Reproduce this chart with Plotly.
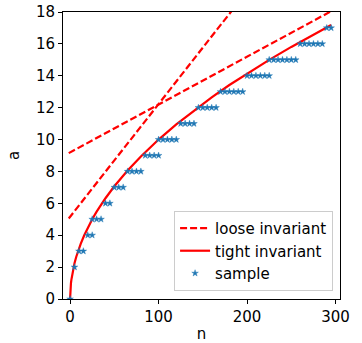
import plotly.graph_objects as go

# sample points (n, a)
sample_n = [0, 5, 10, 15, 20, 25, 25, 30, 35, 40, 45, 50, 55, 60, 65, 70, 75, 80,
            85, 90, 95, 100, 100, 105, 110, 115, 120, 125, 130, 135, 140,
            145, 150, 155, 160, 165, 170, 175, 180, 185, 190, 195,
            200, 205, 210, 215, 220, 225, 225, 230, 235, 240, 245, 250, 255,
            260, 265, 270, 275, 280, 285, 290, 295]
sample_a = [0, 2, 3, 3, 4, 4, 5, 5, 5, 6, 6, 7, 7, 7, 8, 8, 8, 8,
            9, 9, 9, 9, 10, 10, 10, 10, 10, 11, 11, 11, 11,
            12, 12, 12, 12, 12, 13, 13, 13, 13, 13, 13,
            14, 14, 14, 14, 14, 14, 15, 15, 15, 15, 15, 15, 15,
            16, 16, 16, 16, 16, 16, 17, 17]

# tight invariant curve
tight_n = [0, 0.1, 0.3, 0.6, 1, 1.5, 2, 3, 4, 5, 7, 9, 12, 16, 20, 25, 30, 40, 50,
           65, 80, 100, 120, 140, 160, 180, 200, 225, 250, 275, 295]
tight_a = [0, 0.32, 0.55, 0.77, 1.0, 1.22, 1.41, 1.73, 2.0, 2.24, 2.65, 3.0, 3.46,
           4.0, 4.47, 5.0, 5.48, 6.32, 7.07, 8.06, 8.94, 10.0, 10.95, 11.83,
           12.65, 13.42, 14.14, 15.0, 15.81, 16.58, 17.18]

# loose invariant lines (two straight segments, clipped by the axis)
loose1_n = [-1.5, 200]
loose1_a = [5.05, 19.3]
loose2_n = [-1.5, 300]
loose2_a = [9.15, 18.2]

red = "#ff0000"
blue = "#1f77b4"
dash = "7px,3px"

fig = go.Figure()
fig.add_trace(go.Scatter(x=loose1_n, y=loose1_a, mode="lines", name="loose invariant",
                         line=dict(color=red, width=2.2, dash=dash), legendgroup="l"))
fig.add_trace(go.Scatter(x=loose2_n, y=loose2_a, mode="lines", name="loose invariant",
                         line=dict(color=red, width=2.2, dash=dash), showlegend=False,
                         legendgroup="l"))
fig.add_trace(go.Scatter(x=tight_n, y=tight_a, mode="lines", name="tight invariant",
                         line=dict(color=red, width=2.2)))
fig.add_trace(go.Scatter(x=sample_n, y=sample_a, mode="markers", name="sample",
                         marker=dict(symbol="star", size=5, color=blue,
                                     line=dict(width=0.4, color=blue))))

axis_common = dict(
    showgrid=False, zeroline=False, showline=True, linecolor="black", linewidth=1,
    mirror=True, ticks="outside", ticklen=4, tickwidth=1, tickcolor="black",
    automargin=False,
    tickfont=dict(family="DejaVu Sans", size=15, color="black"),
)

fig.update_layout(
    width=362, height=343,
    margin=dict(l=63, r=22, t=12, b=44),
    paper_bgcolor="white", plot_bgcolor="white",
    font=dict(family="DejaVu Sans", size=15, color="black"),
    xaxis=dict(range=[-8, 305], tickvals=[0, 100, 200, 300],
               title=dict(text="n", standoff=6, font=dict(size=15)), **axis_common),
    yaxis=dict(range=[0, 18], tickvals=list(range(0, 19, 2)),
               title=dict(text="a", standoff=12, font=dict(size=15)), **axis_common),
    legend=dict(x=0.975, y=0.028, xanchor="right", yanchor="bottom",
                bgcolor="rgba(255,255,255,0.8)", bordercolor="#cccccc", borderwidth=1,
                font=dict(size=15), tracegroupgap=0, itemwidth=30),
    showlegend=True,
)

# remove the default page margin so the figure fills the window exactly
fig.write_html("out.html",
               config={"displayModeBar": False},
               post_script="document.body.style.margin='0';document.body.style.overflow='hidden';")
